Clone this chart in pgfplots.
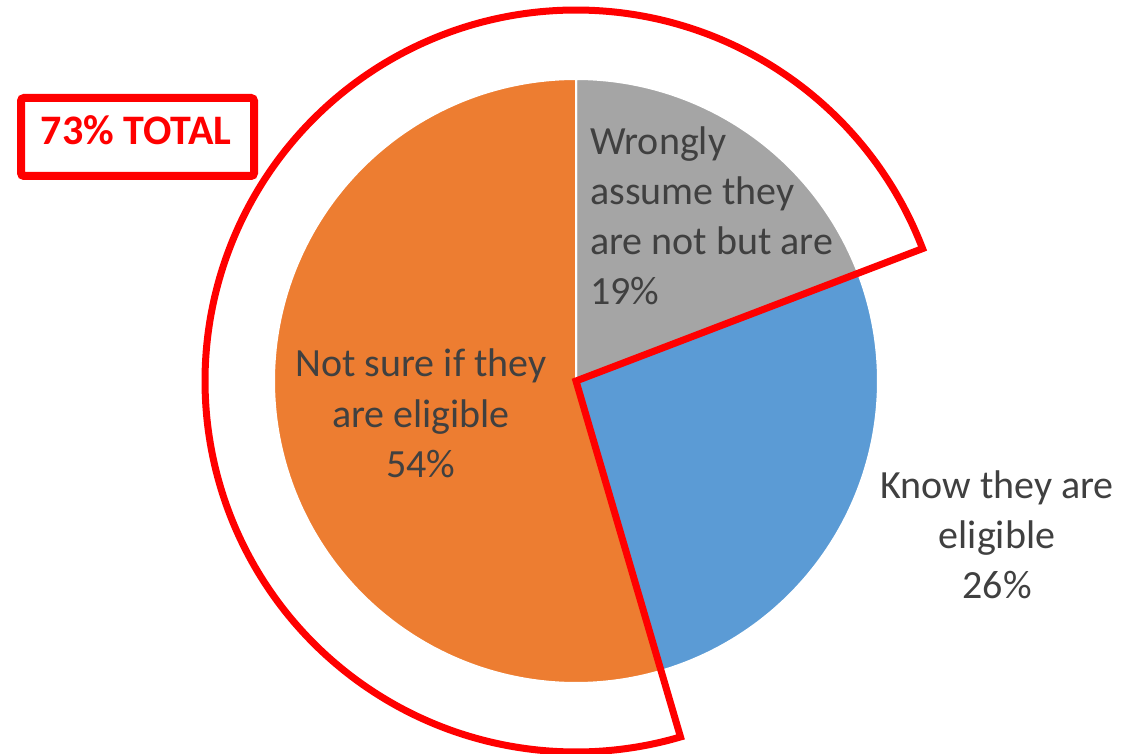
\documentclass[border=0pt]{standalone}
\usepackage{pgfplots}
\pgfplotsset{compat=1.18}
\usepackage{pgfplotstable}
\usepackage{fontspec}
\setmainfont{Carlito}
\definecolor{pgray}{HTML}{A5A5A5}
\definecolor{pblue}{HTML}{5B9BD5}
\definecolor{porange}{HTML}{ED7D31}
\definecolor{lbl}{HTML}{404040}
\definecolor{hred}{HTML}{FF0000}
\newcommand\lblfont{\fontsize{40}{50}\selectfont}
\newcommand\boxfont{\fontsize{42}{50}\selectfont\bfseries}

\pgfplotstableread{
label value
wrongly 19
know 26
notsure 54
}\piedata

\begin{document}
\begin{tikzpicture}
\pgfplotstablegetelem{0}{value}\of\piedata \let\vA\pgfplotsretval
\pgfplotstablegetelem{1}{value}\of\piedata \let\vB\pgfplotsretval
\pgfplotstablegetelem{2}{value}\of\piedata \let\vC\pgfplotsretval
\pgfmathsetmacro\tot{\vA+\vB+\vC}
\pgfmathsetmacro\aA{90}
\pgfmathsetmacro\aB{90-360*\vA/\tot}
\pgfmathsetmacro\aC{\aB-360*\vB/\tot}
\pgfmathsetmacro\aCp{\aC+360}
\def\cx{576}\def\cy{372}\def\R{302}\def\Rr{371}
\begin{axis}[x=1pt,y=1pt,xmin=0,xmax=1121,ymin=0,ymax=753,hide axis,clip=false,anchor=origin]
% slices
\addplot[fill=pgray, draw=white, line width=2pt, domain=\aB:\aA, samples=90, line join=round] ({\cx+\R*cos(x)},{\cy+\R*sin(x)}) -- (axis cs:\cx,\cy) -- cycle;
\addplot[fill=pblue, draw=white, line width=2pt, domain=\aC:\aB, samples=120, line join=round] ({\cx+\R*cos(x)},{\cy+\R*sin(x)}) -- (axis cs:\cx,\cy) -- cycle;
\addplot[fill=porange, draw=white, line width=2pt, domain=\aA:\aCp, samples=240, line join=round] ({\cx+\R*cos(x)},{\cy+\R*sin(x)}) -- (axis cs:\cx,\cy) -- cycle;
% red highlight of the 73% (orange + gray)
\addplot[draw=hred, line width=7pt, domain=\aB:\aCp, samples=300, line join=miter] ({\cx+\Rr*cos(x)},{\cy+\Rr*sin(x)}) -- (axis cs:\cx,\cy) -- cycle;
% labels
\node[anchor=base west, inner sep=0, text=lbl, font=\lblfont] at (axis cs:590,598) {Wrongly};
\node[anchor=base west, inner sep=0, text=lbl, font=\lblfont] at (axis cs:590,548) {assume they};
\node[anchor=base west, inner sep=0, text=lbl, font=\lblfont] at (axis cs:590,498) {are not but are};
\node[anchor=base west, inner sep=0, text=lbl, font=\lblfont] at (axis cs:590,448) {19\%};
\node[anchor=base, inner sep=0, text=lbl, font=\lblfont] at (axis cs:421,376) {Not sure if they};
\node[anchor=base, inner sep=0, text=lbl, font=\lblfont] at (axis cs:421,326) {are eligible};
\node[anchor=base, inner sep=0, text=lbl, font=\lblfont] at (axis cs:421,276) {54\%};
\node[anchor=base, inner sep=0, text=lbl, font=\lblfont] at (axis cs:997,255) {Know they are};
\node[anchor=base, inner sep=0, text=lbl, font=\lblfont] at (axis cs:997,205) {eligible};
\node[anchor=base, inner sep=0, text=lbl, font=\lblfont] at (axis cs:997,155) {26\%};
% total box
\draw[hred, line width=8pt, rounded corners=3pt] (axis cs:21,655) rectangle (axis cs:254,577);
\node[anchor=base, inner sep=0, text=hred, font=\boxfont] at (axis cs:136,608) {73\% TOTAL};
\end{axis}
\pgfresetboundingbox
\path[use as bounding box] (0,0) rectangle (1121pt,753pt);
\end{tikzpicture}
\end{document}
